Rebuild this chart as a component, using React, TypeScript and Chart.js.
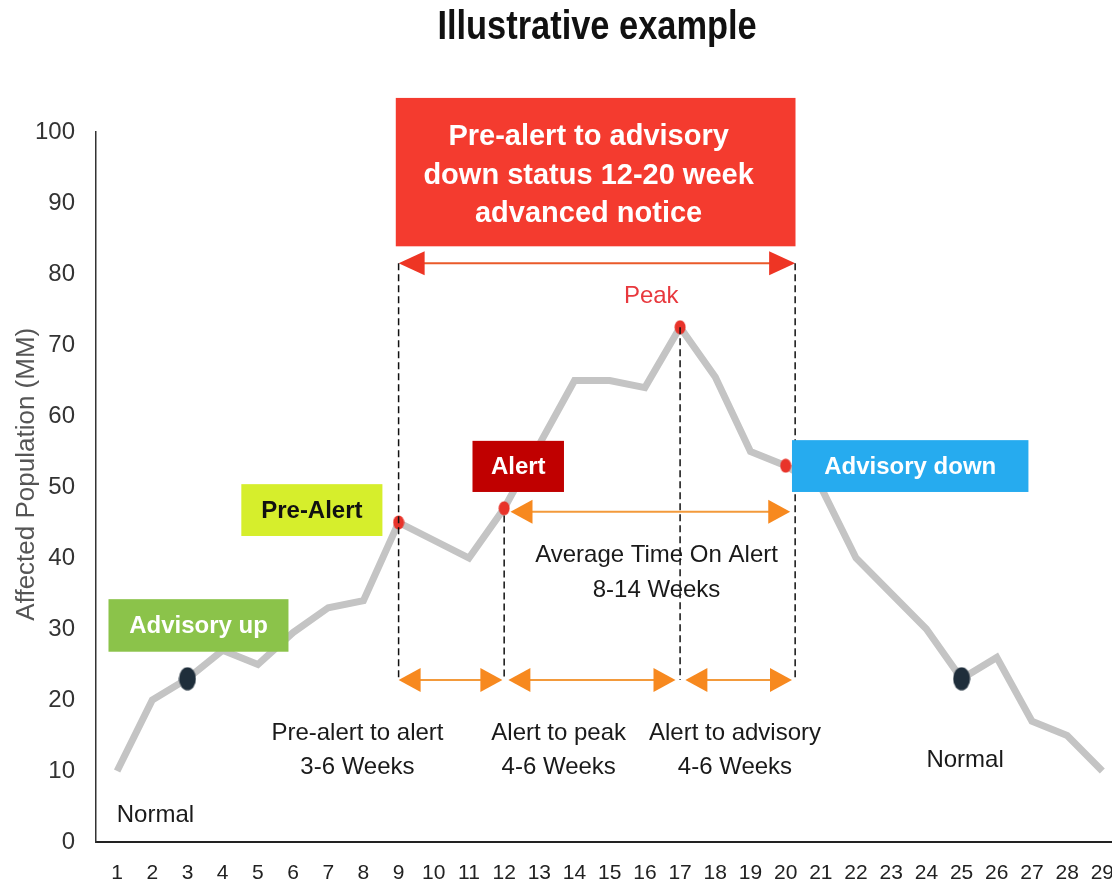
import React, { useEffect, useRef } from "react";
import { Chart, registerables } from "chart.js";

Chart.register(...registerables);

// ---------- data ----------
const weeks = [1, 2, 3, 4, 5, 6, 7, 8, 9, 10, 11, 12, 13, 14, 15, 16, 17, 18, 19, 20, 21, 22, 23, 24, 25, 26, 27, 28, 29];
const population = [10, 20, 23, 27, 25, 29.5, 33, 34, 45, 42.5, 40, 47, 56, 65, 65, 64, 72.5, 65.5, 55, 53, 50, 40, 35, 30, 23, 26, 17, 15, 10];
const yTickValues = [0, 10, 20, 30, 40, 50, 60, 70, 80, 90, 100];
const redMarkerWeeks = [9, 12, 17, 20];
const normalMarkerWeeks = [3, 25];

const titleText = "Illustrative example";
const yAxisTitle = "Affected Population (MM)";

// status labels (placed in data coordinates)
const statusLabels = ["Advisory up", "Pre-Alert", "Alert", "Advisory down"];
const statusX0 = [0.755, 4.53, 11.1, 20.18];
const statusX1 = [5.87, 8.54, 13.7, 26.9];
const statusY0 = [26.8, 43.1, 49.3, 49.3];
const statusY1 = [34.2, 50.4, 56.5, 56.6];
const statusFill = ["#8bc34a", "#d6ee2c", "#c00000", "#26abef"];
const statusTextColor = ["#ffffff", "#111111", "#ffffff", "#ffffff"];

const bannerLines = ["Pre-alert to advisory", "down status 12-20 week", "advanced notice"];

const spanLabels = [
  ["Pre-alert to alert", "3-6 Weeks"],
  ["Alert to peak", "4-6 Weeks"],
  ["Alert to advisory", "4-6 Weeks"],
  ["Average Time On Alert", "8-14 Weeks"],
];
const spanLabelX = [7.83, 13.55, 18.56, 16.33];
const spanLabelY = [15.35, 15.35, 15.35, 40.3];

const SANS = "'Liberation Sans', Arial, Helvetica, sans-serif";

function ellipseStyle(w: number, h: number, color: string) {
  const c = document.createElement("canvas");
  c.width = w;
  c.height = h;
  const g = c.getContext("2d")!;
  g.fillStyle = color;
  g.beginPath();
  g.ellipse(w / 2, h / 2, w / 2 - 0.5, h / 2 - 0.5, 0, 0, Math.PI * 2);
  g.fill();
  return c;
}

function drawArrow(
  ctx: CanvasRenderingContext2D,
  xa: number,
  xb: number,
  yp: number,
  lineColor: string,
  headColor: string,
  len: number,
  half: number
) {
  ctx.save();
  ctx.strokeStyle = lineColor;
  ctx.lineWidth = 2;
  ctx.setLineDash([]);
  ctx.beginPath();
  ctx.moveTo(xa + len * 0.6, yp);
  ctx.lineTo(xb - len * 0.6, yp);
  ctx.stroke();
  ctx.fillStyle = headColor;
  ctx.beginPath();
  ctx.moveTo(xa, yp);
  ctx.lineTo(xa + len, yp - half);
  ctx.lineTo(xa + len, yp + half);
  ctx.closePath();
  ctx.fill();
  ctx.beginPath();
  ctx.moveTo(xb, yp);
  ctx.lineTo(xb - len, yp - half);
  ctx.lineTo(xb - len, yp + half);
  ctx.closePath();
  ctx.fill();
  ctx.restore();
}

const annotationPlugin = {
  id: "annotations",
  afterDatasetsDraw(chart: any) {
    const { ctx, chartArea } = chart;
    const xs = chart.scales.x;
    const ys = chart.scales.y;
    const X = (v: number) => xs.getPixelForValue(v);
    const Y = (v: number) => ys.getPixelForValue(v);
    ctx.save();
    ctx.textAlign = "center";
    ctx.textBaseline = "middle";

    // title (condensed bold)
    ctx.save();
    ctx.translate(X(14.64), chartArea.top - 104);
    ctx.scale(0.86, 1);
    ctx.fillStyle = "#111";
    ctx.font = `bold 40px ${SANS}`;
    ctx.fillText(titleText, 0, 0);
    ctx.restore();

    // y axis title
    ctx.save();
    ctx.translate(chartArea.left - 69, Y(51.8));
    ctx.rotate(-Math.PI / 2);
    ctx.fillStyle = "#555";
    ctx.font = `26px ${SANS}`;
    ctx.fillText(yAxisTitle, 0, 0);
    ctx.restore();

    // red banner
    ctx.fillStyle = "#f43b2f";
    ctx.fillRect(X(8.92), Y(104.8), X(20.28) - X(8.92), Y(83.9) - Y(104.8));
    ctx.fillStyle = "#fff";
    ctx.font = `bold 29px ${SANS}`;
    const bannerY = [99.3, 93.8, 88.5];
    bannerLines.forEach((t, i) => ctx.fillText(t, X(14.4), Y(bannerY[i])));

    // red span arrow
    drawArrow(ctx, X(9.0), X(20.27), Y(81.5), "#ea5a2a", "#ee3524", 26, 12);

    // dashed verticals
    ctx.strokeStyle = "#111";
    ctx.lineWidth = 1.5;
    ctx.setLineDash([7, 4]);
    const dashes = [
      [9.0, 81.5],
      [12.0, 46],
      [17.0, 72.5],
      [20.27, 81.5],
    ];
    dashes.forEach(([xv, top]) => {
      ctx.beginPath();
      ctx.moveTo(X(xv), Y(top));
      ctx.lineTo(X(xv), Y(22.8));
      ctx.stroke();
    });
    ctx.setLineDash([]);

    // orange arrows
    const orange = "#f7891f";
    drawArrow(ctx, X(9.0), X(11.95), Y(22.8), "#f39a3b", orange, 22, 12);
    drawArrow(ctx, X(12.12), X(16.87), Y(22.8), "#f39a3b", orange, 22, 12);
    drawArrow(ctx, X(17.15), X(20.18), Y(22.8), "#f39a3b", orange, 22, 12);
    drawArrow(ctx, X(12.18), X(20.13), Y(46.5), "#f39a3b", orange, 22, 12);

    // span labels
    ctx.fillStyle = "#1a1a1a";
    ctx.font = `24px ${SANS}`;
    spanLabels.forEach((lines, i) => {
      ctx.fillText(lines[0], X(spanLabelX[i]), Y(spanLabelY[i]));
      ctx.fillText(lines[1], X(spanLabelX[i]), Y(spanLabelY[i] - 4.8));
    });
    ctx.fillText("Normal", X(2.09), Y(3.8));
    ctx.fillText("Normal", X(25.1), Y(11.55));

    ctx.fillStyle = "#e8383d";
    ctx.fillText("Peak", X(16.18), Y(76.9));

    // status boxes
    ctx.font = `bold 24px ${SANS}`;
    statusLabels.forEach((t, i) => {
      const x0 = X(statusX0[i]);
      const x1 = X(statusX1[i]);
      const y0 = Y(statusY1[i]);
      const y1 = Y(statusY0[i]);
      ctx.fillStyle = statusFill[i];
      ctx.fillRect(x0, y0, x1 - x0, y1 - y0);
      ctx.fillStyle = statusTextColor[i];
      ctx.fillText(t, (x0 + x1) / 2, (y0 + y1) / 2 + 1);
    });

    ctx.restore();
  },
};

export default function App() {
  const ref = useRef<HTMLCanvasElement | null>(null);

  useEffect(() => {
    if (!ref.current) return;
    const navy = ellipseStyle(18, 24, "#1f2e3b");
    const red = ellipseStyle(12, 15, "#e8332a");
    const styles = weeks.map((w) =>
      normalMarkerWeeks.includes(w) ? navy : redMarkerWeeks.includes(w) ? red : "circle"
    );
    const radii = weeks.map((w) =>
      normalMarkerWeeks.includes(w) || redMarkerWeeks.includes(w) ? 8 : 0
    );

    const chart = new Chart(ref.current, {
      type: "line",
      data: {
        datasets: [
          {
            data: weeks.map((w, i) => ({ x: w, y: population[i] })),
            borderColor: "#c4c4c4",
            borderWidth: 7,
            borderJoinStyle: "miter",
            tension: 0,
            fill: false,
            pointStyle: styles as any,
            pointRadius: radii,
            pointHoverRadius: radii,
          },
        ],
      },
      options: {
        animation: false,
        responsive: false,
        maintainAspectRatio: false,
        devicePixelRatio: 1,
        events: [],
        layout: { padding: { top: 132, left: 0, right: 0, bottom: 0 } },
        plugins: {
          legend: { display: false },
          tooltip: { enabled: false },
          title: { display: false },
        },
        scales: {
          x: {
            type: "linear",
            min: 0.4,
            max: 29.5,
            grid: { display: false, drawTicks: false },
            border: { display: true, color: "#222", width: 2 },
            ticks: {
              font: { family: SANS, size: 21 },
              color: "#222",
              padding: 19,
              autoSkip: false,
              maxRotation: 0,
            },
            afterBuildTicks: (s: any) => {
              s.ticks = weeks.map((v) => ({ value: v }));
            },
            afterFit: (s: any) => {
              s.height = 46;
            },
          },
          y: {
            min: 0,
            max: 100,
            grid: { display: false, drawTicks: false },
            border: { display: true, color: "#333", width: 1.5 },
            ticks: {
              stepSize: 10,
              font: { family: SANS, size: 24 },
              color: "#333",
              padding: 21,
            },
            afterBuildTicks: (s: any) => {
              s.ticks = yTickValues.map((v) => ({ value: v }));
            },
            afterFit: (s: any) => {
              s.width = 96;
            },
          },
        },
      },
      plugins: [annotationPlugin],
    });
    return () => chart.destroy();
  }, []);

  return (
    <div
      style={{
        position: "fixed",
        left: 0,
        top: 0,
        width: 1112,
        height: 888,
        overflow: "hidden",
        background: "#fff",
      }}
    >
      <canvas ref={ref} width={1133} height={888} style={{ display: "block" }} />
    </div>
  );
}
